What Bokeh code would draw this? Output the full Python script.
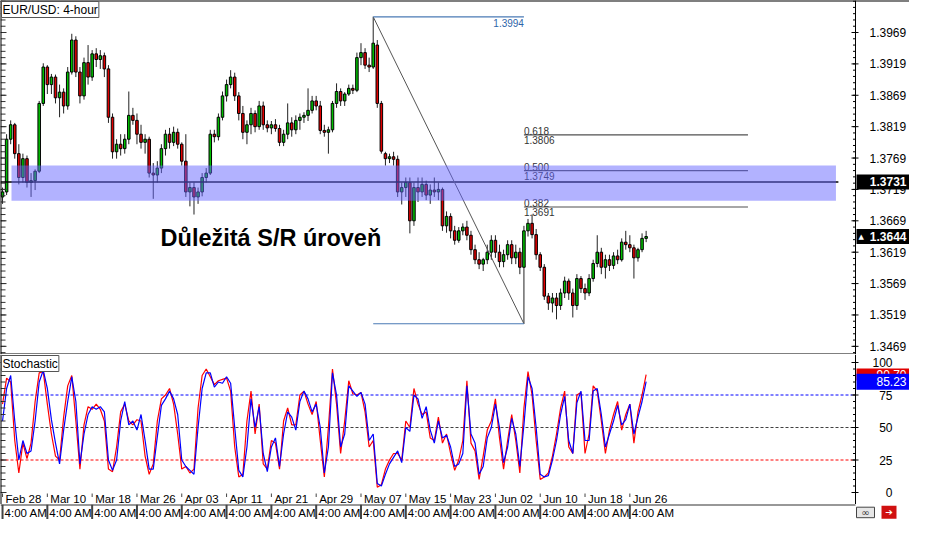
import numpy as np
from bokeh.plotting import figure
from bokeh.layouts import column
from bokeh.models import Range1d, Label, ColumnDataSource, BoxAnnotation
from bokeh.embed import file_html
from bokeh.resources import INLINE
from bokeh.core.properties import value

FONT = "Liberation Sans"

# ---------------- data ----------------
symbol = "EUR/USD: 4-hour"
date_labels = ["Feb 28", "Mar 10", "Mar 18", "Mar 26", "Apr 03", "Apr 11", "Apr 21",
               "Apr 29", "May 07", "May 15", "May 23", "Jun 02", "Jun 10", "Jun 18", "Jun 26"]
time_label = "4:00 AM"
label_bars = [0, 11, 22, 33, 44, 55, 66, 77, 88, 99, 110, 121, 132, 143, 154]

opens = [1.3707,1.3715,1.3799,1.3822,1.3776,1.3738,1.3768,1.3730,1.3733,1.3748,
         1.3856,1.3914,1.3886,1.3898,1.3865,1.3874,1.3852,1.3906,1.3957,1.3906,
         1.3868,1.3921,1.3898,1.3935,1.3926,1.3932,1.3911,1.3834,1.3779,1.3791,
         1.3784,1.3799,1.3837,1.3829,1.3807,1.3794,1.3799,1.3745,1.3742,1.3753,
         1.3784,1.3807,1.3794,1.3810,1.3791,1.3764,1.3715,1.3722,1.3707,1.3715,
         1.3738,1.3745,1.3807,1.3803,1.3834,1.3868,1.3886,1.3898,1.3868,1.3840,
         1.3810,1.3822,1.3840,1.3819,1.3852,1.3822,1.3817,1.3822,1.3816,1.3794,
         1.3807,1.3825,1.3814,1.3829,1.3834,1.3837,1.3845,1.3860,1.3852,1.3813,
         1.3810,1.3814,1.3856,1.3875,1.3860,1.3871,1.3880,1.3877,1.3929,1.3937,
         1.3917,1.3914,1.3949,1.3856,1.3776,1.3768,1.3771,1.3767,1.3715,1.3722,
         1.3730,1.3669,1.3722,1.3715,1.3727,1.3710,1.3718,1.3715,1.3719,1.3661,
         1.3676,1.3653,1.3638,1.3653,1.3659,1.3646,1.3623,1.3607,1.3600,1.3607,
         1.3619,1.3638,1.3619,1.3604,1.3615,1.3631,1.3610,1.3619,1.3595,1.3653,
         1.3665,1.3647,1.3615,1.3595,1.3549,1.3538,1.3546,1.3534,1.3554,1.3573,
         1.3554,1.3534,1.3577,1.3561,1.3554,1.3577,1.3601,1.3619,1.3595,1.3607,
         1.3598,1.3613,1.3607,1.3635,1.3631,1.3626,1.3610,1.3623,1.3641]
highs = [1.3722,1.3807,1.3829,1.3825,1.3791,1.3776,1.3773,1.3745,1.3751,1.3860,
         1.3920,1.3917,1.3903,1.3902,1.3886,1.3880,1.3914,1.3967,1.3963,1.3914,
         1.3929,1.3949,1.3941,1.3944,1.3941,1.3937,1.3917,1.3840,1.3799,1.3807,
         1.3807,1.3875,1.3849,1.3840,1.3822,1.3807,1.3803,1.3761,1.3764,1.3791,
         1.3814,1.3817,1.3819,1.3816,1.3794,1.3807,1.3730,1.3730,1.3722,1.3745,
         1.3753,1.3814,1.3814,1.3840,1.3875,1.3894,1.3909,1.3905,1.3874,1.3852,
         1.3829,1.3849,1.3845,1.3860,1.3859,1.3829,1.3828,1.3831,1.3822,1.3814,
         1.3856,1.3834,1.3837,1.3840,1.3842,1.3880,1.3868,1.3868,1.3860,1.3822,
         1.3819,1.3860,1.3888,1.3880,1.3874,1.3886,1.3886,1.3937,1.3952,1.3944,
         1.3929,1.3994,1.3957,1.3860,1.3779,1.3776,1.3779,1.3773,1.3730,1.3738,
         1.3738,1.3730,1.3738,1.3738,1.3733,1.3727,1.3738,1.3730,1.3722,1.3684,
         1.3681,1.3661,1.3659,1.3665,1.3669,1.3653,1.3631,1.3619,1.3610,1.3631,
         1.3646,1.3646,1.3631,1.3623,1.3638,1.3638,1.3631,1.3626,1.3661,1.3672,
         1.3679,1.3656,1.3619,1.3600,1.3554,1.3554,1.3554,1.3561,1.3580,1.3577,
         1.3561,1.3584,1.3581,1.3569,1.3584,1.3607,1.3646,1.3626,1.3615,1.3615,
         1.3619,1.3623,1.3641,1.3653,1.3646,1.3631,1.3626,1.3649,1.3653]
lows = [1.3696,1.3710,1.3791,1.3768,1.3727,1.3730,1.3722,1.3707,1.3718,1.3745,
        1.3852,1.3871,1.3871,1.3856,1.3834,1.3840,1.3846,1.3902,1.3898,1.3856,
        1.3862,1.3886,1.3892,1.3914,1.3911,1.3898,1.3825,1.3768,1.3768,1.3773,
        1.3776,1.3791,1.3822,1.3791,1.3784,1.3776,1.3738,1.3704,1.3730,1.3745,
        1.3773,1.3784,1.3788,1.3784,1.3757,1.3707,1.3692,1.3679,1.3696,1.3708,
        1.3730,1.3742,1.3794,1.3797,1.3829,1.3859,1.3880,1.3860,1.3829,1.3799,
        1.3791,1.3807,1.3810,1.3814,1.3814,1.3810,1.3807,1.3811,1.3788,1.3788,
        1.3799,1.3803,1.3807,1.3814,1.3825,1.3828,1.3840,1.3845,1.3807,1.3803,
        1.3776,1.3810,1.3849,1.3852,1.3852,1.3868,1.3871,1.3874,1.3917,1.3911,
        1.3906,1.3911,1.3849,1.3776,1.3757,1.3761,1.3757,1.3707,1.3695,1.3707,
        1.3649,1.3661,1.3699,1.3707,1.3702,1.3696,1.3707,1.3702,1.3653,1.3650,
        1.3641,1.3631,1.3634,1.3646,1.3638,1.3615,1.3600,1.3592,1.3589,1.3600,
        1.3607,1.3610,1.3595,1.3595,1.3607,1.3600,1.3600,1.3584,1.3505,1.3644,
        1.3641,1.3607,1.3589,1.3543,1.3527,1.3523,1.3512,1.3527,1.3546,1.3543,
        1.3515,1.3527,1.3554,1.3543,1.3549,1.3572,1.3595,1.3584,1.3577,1.3589,
        1.3592,1.3600,1.3604,1.3623,1.3619,1.3577,1.3604,1.3619,1.3635]
closes = [1.3715,1.3799,1.3822,1.3776,1.3738,1.3768,1.3730,1.3733,1.3748,1.3856,
          1.3914,1.3886,1.3898,1.3865,1.3874,1.3852,1.3906,1.3957,1.3906,1.3868,
          1.3921,1.3898,1.3935,1.3926,1.3932,1.3911,1.3834,1.3779,1.3791,1.3784,
          1.3799,1.3837,1.3829,1.3807,1.3794,1.3799,1.3745,1.3742,1.3753,1.3784,
          1.3807,1.3794,1.3810,1.3791,1.3764,1.3715,1.3722,1.3707,1.3715,1.3738,
          1.3745,1.3807,1.3803,1.3834,1.3868,1.3886,1.3898,1.3868,1.3840,1.3810,
          1.3822,1.3840,1.3819,1.3852,1.3822,1.3817,1.3822,1.3816,1.3794,1.3807,
          1.3825,1.3814,1.3829,1.3834,1.3837,1.3845,1.3860,1.3852,1.3813,1.3810,
          1.3814,1.3856,1.3875,1.3860,1.3871,1.3880,1.3877,1.3929,1.3937,1.3917,
          1.3914,1.3952,1.3856,1.3780,1.3768,1.3771,1.3767,1.3715,1.3722,1.3730,
          1.3669,1.3722,1.3715,1.3727,1.3710,1.3718,1.3715,1.3719,1.3661,1.3676,
          1.3653,1.3638,1.3653,1.3659,1.3646,1.3623,1.3607,1.3600,1.3607,1.3619,
          1.3638,1.3619,1.3604,1.3615,1.3631,1.3610,1.3619,1.3595,1.3653,1.3665,
          1.3647,1.3615,1.3595,1.3549,1.3538,1.3546,1.3534,1.3554,1.3573,1.3554,
          1.3534,1.3577,1.3561,1.3554,1.3577,1.3601,1.3619,1.3595,1.3607,1.3598,
          1.3613,1.3607,1.3635,1.3631,1.3626,1.3610,1.3623,1.3641,1.3644]

stoch_main = [68,88,85,40,15,38,26,38,70,92,
              93,68,45,28,25,58,82,90,55,18,
              52,66,64,68,64,55,18,16,35,62,
              68,55,52,56,55,28,14,22,55,72,
              75,80,68,45,18,20,15,18,65,90,
              95,89,83,86,87,88,78,35,12,14,
              55,78,45,68,22,18,40,38,18,55,
              65,52,52,75,78,68,60,70,40,12,
              50,95,68,30,55,86,76,75,77,62,
              35,40,4,6,18,25,30,30,25,55,
              50,80,68,60,62,42,40,58,38,45,
              30,17,25,40,86,38,32,10,28,48,
              55,72,42,18,40,60,40,15,65,93,
              75,40,10,12,15,28,45,65,78,35,
              30,75,77,30,45,82,78,55,30,48,
              60,70,48,60,68,38,62,75,90.70]
stoch_signal = [55,80,90,55,25,40,30,32,55,85,
                94,80,56,38,22,48,70,89,70,22,
                45,60,66,64,66,62,25,17,25,55,
                70,52,55,48,60,40,18,18,43,67,
                72,78,72,60,25,20,17,14,50,80,
                92,92,81,85,84,89,84,50,17,12,
                35,72,50,66,30,16,35,42,20,45,
                62,58,48,70,78,72,62,68,50,15,
                35,92,75,35,45,82,78,74,77,68,
                40,45,7,5,14,22,27,32,23,50,
                47,75,72,57,66,48,38,55,42,44,
                35,20,22,30,82,45,38,14,20,42,
                50,68,50,23,35,57,45,20,52,89,
                80,50,14,12,13,25,40,60,74,40,
                30,69,78,40,40,78,80,60,35,45,
                55,67,52,56,68,45,58,70,85.23]

price_ticks = [1.3469, 1.3519, 1.3569, 1.3619, 1.3669, 1.3719, 1.3769, 1.3819, 1.3869, 1.3919, 1.3969]
stoch_ticks = [0, 25, 50, 75, 100]
stoch_levels = [75, 50, 25]

sr_level = 1.3731
sr_zone = [1.3701, 1.3757]
sr_text = "Důležitá S/R úroveň"
fib_high, fib_low = 1.3994, 1.3505
fib_high_bar, fib_low_bar = 91, 128
fib_levels = ["0.382", "0.500", "0.618"]
fib_prices = [1.3691, 1.3749, 1.3806]
last_price = 1.3644

# ---------------- geometry / style constants ----------------
n = len(opens)
bars = np.arange(n)
W = 909                       # whole page content width
X0, X_AXIS = -0.5, 209.4      # left edge and price-scale position (bar units)
PXX = 855 / (X_AXIS - X0)     # pixels per bar
X_END = X0 + W / PXX
XR = Range1d(X0, X_END)

MAIN_H, STOCH_H, STRIP_H = 354, 150, 15
P_LO, P_HI = 1.3456, 1.4020
PYS = 1.3                     # stochastic pixels per unit
S_LO, S_HI = -12 / PYS, 100 + 8 / PYS
PYM = MAIN_H / (P_HI - P_LO)

def dx(px):
    return px / PXX

def base_fig(h, yr):
    f = figure(frame_width=W, frame_height=h, x_range=XR, y_range=yr,
               output_backend="svg", toolbar_location=None,
               x_axis_location=None, y_axis_location=None,
               min_border=0, min_border_left=0, min_border_right=0,
               min_border_top=0, min_border_bottom=0,
               background_fill_color="white", border_fill_color="white",
               outline_line_color=None)
    f.grid.visible = False
    return f

def price_scale(f, ticks, minor, lo, hi, labels, align, offset):
    f.segment(x0=[X_AXIS], y0=[lo], x1=[X_AXIS], y1=[hi], line_color="black", line_width=1)
    f.segment(x0=X_AXIS - dx(2.5), y0=minor, x1=X_AXIS, y1=minor, line_color="black", line_width=1)
    f.segment(x0=X_AXIS - dx(4), y0=ticks, x1=X_AXIS + dx(3), y1=ticks, line_color="black", line_width=1)
    f.segment(x0=X0, y0=minor, x1=X0 + dx(5), y1=minor, line_color="#333333", line_width=1)
    f.segment(x0=X0, y0=ticks, x1=X0 + dx(6), y1=ticks, line_color="#333333", line_width=1)
    f.text(x=X_AXIS, y=ticks, text=labels, text_font=value(FONT), text_font_size="12px",
           text_color="black", text_baseline="middle", text_align=align, x_offset=offset)
    f.segment(x0=[X0], y0=[lo], x1=[X0], y1=[hi], line_color="black", line_width=2)

def value_box(f, y, half_h, label, fill, bold=False):
    f.quad(left=[X_AXIS + dx(1)], right=[X_END], bottom=[y - half_h], top=[y + half_h],
           fill_color=fill, line_color=None)
    f.text(x=[X_END], y=[y], text=[label], text_align="right", text_baseline="middle",
           x_offset=-3, text_color="white", text_font=value(FONT), text_font_size="12px",
           text_font_style="bold" if bold else "normal")

# ---------------- main price panel ----------------
p = base_fig(MAIN_H, Range1d(P_LO, P_HI))
price_minor = list(np.round(np.arange(1.3459, P_HI, 0.001), 4))

o_arr, c_arr = np.array(opens), np.array(closes)
src = ColumnDataSource(dict(
    x=bars, high=highs, low=lows,
    top=np.maximum(o_arr, c_arr), bottom=np.minimum(o_arr, c_arr),
    color=["#00c000" if c >= o else "#e00000" for o, c in zip(opens, closes)]))
p.segment(x0="x", y0="high", x1="x", y1="low", source=src, line_color="#222222", line_width=1)
p.vbar(x="x", width=0.62, top="top", bottom="bottom", fill_color="color",
       line_color="black", line_width=1, source=src)

# S/R line
p.segment(x0=[X0], y0=[sr_level], x1=[205.2], y1=[sr_level], line_color="black", line_width=1.5)

# Fibonacci retracement
p.segment(x0=[fib_high_bar], y0=[fib_high], x1=[fib_low_bar], y1=[fib_low],
          line_color="#555555", line_width=1)
p.segment(x0=[fib_high_bar, fib_high_bar], y0=[fib_high, fib_low],
          x1=[fib_low_bar, fib_low_bar], y1=[fib_high, fib_low],
          line_color="#4a7ab5", line_width=1.2)
p.segment(x0=fib_low_bar, y0=fib_prices, x1=183, y1=fib_prices,
          line_color="#505050", line_width=1.2)
p.text(x=[fib_low_bar], y=[fib_high], text=["%.4f" % fib_high], text_align="right",
       text_baseline="top", text_color="#2e64a8", text_font=value(FONT),
       text_font_size="10px", y_offset=2)
p.text(x=fib_low_bar, y=fib_prices, text=fib_levels, text_align="left",
       text_baseline="bottom", text_color="#333333", text_font=value(FONT),
       text_font_size="10px")
p.text(x=fib_low_bar, y=fib_prices, text=["%.4f" % v for v in fib_prices], text_align="left",
       text_baseline="top", text_color="#333333", text_font=value(FONT),
       text_font_size="10px", y_offset=1)

# price scale (right) and frame
price_scale(p, price_ticks, price_minor, P_LO, P_HI, ["%.4f" % t for t in price_ticks], "left", 14)
p.segment(x0=[X0], y0=[P_HI], x1=[X_END], y1=[P_HI], line_color="black", line_width=2)
p.segment(x0=[X0], y0=[P_LO], x1=[X_AXIS], y1=[P_LO], line_color="black", line_width=2)

# value boxes on price scale
value_box(p, sr_level, 7.5 / PYM, "%.4f" % sr_level, "black", bold=True)
value_box(p, last_price, 7.5 / PYM, "%.4f" % last_price, "black", bold=True)
p.text(x=[X_AXIS + dx(3)], y=[last_price], text=["▲"], text_font=value("DejaVu Sans"),
       text_font_size="7px", text_color="white", text_baseline="middle", text_align="left")

# S/R zone (blended over candles)
p.add_layout(BoxAnnotation(left=2.2, right=204.6, bottom=sr_zone[0], top=sr_zone[1],
                           fill_color="#6666ff", fill_alpha=0.5, line_color=None))

p.add_layout(Label(x=38.8, y=1.3642, text=sr_text, text_font=FONT, text_font_style="bold",
                   text_font_size="23.5px", text_color="black", text_baseline="alphabetic"))
p.add_layout(Label(x=X0, y=P_HI, x_offset=1, y_offset=-1, text=symbol, text_baseline="top",
                   text_font=FONT, text_font_size="12px", text_color="black",
                   background_fill_color="white", border_line_color="#555555", padding=1))

# ---------------- stochastic panel (with the date row at its foot) ----------------
s = base_fig(STOCH_H, Range1d(S_LO, S_HI))
stoch_minor = list(range(0, 101, 5))
for lvl, col in zip(stoch_levels, ["#0000ff", "#404040", "#ff0000"]):
    s.segment(x0=[X0], y0=[lvl], x1=[X_AXIS - dx(3)], y1=[lvl], line_color=col,
              line_dash="3 2", line_width=1)
s.line(bars, stoch_main, line_color="#ff0000", line_width=1.2)
s.line(bars, stoch_signal, line_color="#0000ff", line_width=1.2)
price_scale(s, stoch_ticks, stoch_minor, S_LO, S_HI, [str(t) for t in stoch_ticks], "right", 37)
value_box(s, stoch_main[-1], 6 / PYS, "%.2f" % stoch_main[-1], "#e00000")
value_box(s, stoch_signal[-1], 8 / PYS, "%.2f" % stoch_signal[-1], "#0000ff")
s.add_layout(Label(x=X0, y=S_HI, x_offset=1, y_offset=-1, text="Stochastic", text_baseline="top",
                   text_font=FONT, text_font_size="12px", text_color="black",
                   background_fill_color="white", border_line_color="#555555", padding=1))
# date row
s.segment(x0=label_bars, y0=-1 / PYS, x1=label_bars, y1=-4.5 / PYS, line_color="#444444", line_width=1)
s.text(x=label_bars, y=-6 / PYS, text=date_labels, text_font=value(FONT), text_font_size="11.5px",
       text_baseline="middle", text_align="left", x_offset=3, text_color="black")

# ---------------- time row strip ----------------
t = base_fig(STRIP_H, Range1d(0, 1))
t.segment(x0=[X0], y0=[1], x1=[X_AXIS], y1=[1], line_color="#333333", line_width=2)
t.segment(x0=label_bars, y0=0, x1=label_bars, y1=1, line_color="#444444", line_width=2)
t.text(x=label_bars, y=0.45, text=[time_label] * len(label_bars), text_font=value(FONT),
       text_font_size="11.5px", text_baseline="middle", text_align="left", x_offset=2,
       text_color="black")
# small buttons at bottom right
t.quad(left=[X_AXIS + dx(1)], right=[X_AXIS + dx(19)], bottom=[0.12], top=[0.82],
       fill_color="#e6e6e6", line_color="#444444", line_width=1)
t.text(x=[X_AXIS + dx(10)], y=[0.47], text=["∞"], text_font=value("DejaVu Sans"),
       text_font_size="10px", text_align="center", text_baseline="middle", text_color="#333333")
t.quad(left=[X_AXIS + dx(26)], right=[X_AXIS + dx(41)], bottom=[0.05], top=[0.92],
       fill_color="#d01010", line_color=None)
t.text(x=[X_AXIS + dx(33.5)], y=[0.48], text=["➔"], text_font=value("DejaVu Sans"),
       text_font_size="9px", text_align="center", text_baseline="middle", text_color="white")

layout = column(p, s, t, spacing=0)
open("out.html", "w").write(file_html(layout, INLINE))
